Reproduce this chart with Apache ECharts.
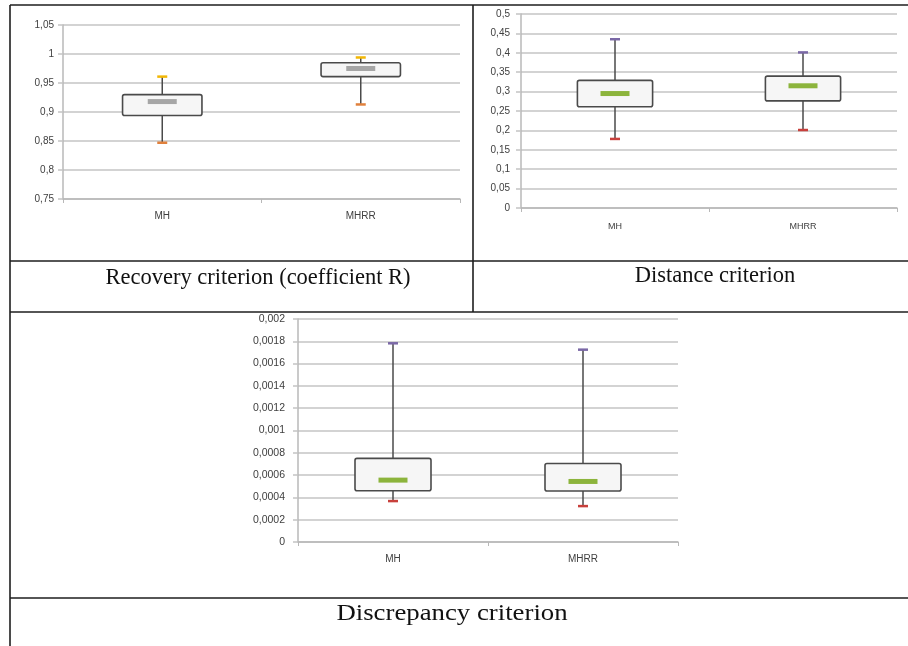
<!DOCTYPE html>
<html>
<head>
<meta charset="utf-8">
<script src="https://cdn.jsdelivr.net/npm/echarts@6/dist/echarts.min.js"></script>
<style>
html,body{margin:0;padding:0;background:#fff;}
#chart{width:908px;height:646px;}
</style>
</head>
<body>
<div id="chart"></div>
<script>
// ---- data ----
const categories = ['MH', 'MHRR'];

const recoveryMin    = [0.847, 0.913];
const recoveryQ1     = [0.894, 0.961];
const recoveryMedian = [0.918, 0.975];
const recoveryQ3     = [0.930, 0.985];
const recoveryMax    = [0.961, 0.994];

const distanceMin    = [0.178, 0.201];
const distanceQ1     = [0.261, 0.276];
const distanceMedian = [0.295, 0.315];
const distanceQ3     = [0.329, 0.340];
const distanceMax    = [0.435, 0.401];

const discrepancyMin    = [0.000367, 0.000322];
const discrepancyQ1     = [0.000460, 0.000457];
const discrepancyMedian = [0.000555, 0.000543];
const discrepancyQ3     = [0.000750, 0.000704];
const discrepancyMax    = [0.001782, 0.001725];

const captions = ['Recovery criterion (coefficient R)', 'Distance criterion', 'Discrepancy criterion'];

// ---- helpers ----
function rows(mn, q1, md, q3, mx) {
  return categories.map((c, i) => [i, mn[i], q1[i], md[i], q3[i], mx[i]]);
}
function fmt(v) {
  return String(parseFloat(Number(v).toFixed(6))).replace('.', ',');
}
function makeRender(medColor, topCap, botCap) {
  return function (params, api) {
    const x = api.value(0);
    const pMin = api.coord([x, api.value(1)]);
    const pQ1 = api.coord([x, api.value(2)]);
    const pMed = api.coord([x, api.value(3)]);
    const pQ3 = api.coord([x, api.value(4)]);
    const pMax = api.coord([x, api.value(5)]);
    const bw = api.size([1, 0])[0] * 0.40;
    const cx = pMed[0];
    const capW = 10, medW = 29;
    return {
      type: 'group',
      children: [
        { type: 'line', shape: { x1: cx, y1: pMax[1], x2: cx, y2: pMin[1] },
          style: { stroke: '#4a4a4a', lineWidth: 1.5 } },
        { type: 'rect', shape: { x: cx - bw / 2, y: pQ3[1], width: bw, height: pQ1[1] - pQ3[1], r: 2 },
          style: { fill: '#f6f6f6', stroke: '#4a4a4a', lineWidth: 1.6 } },
        { type: 'rect', shape: { x: cx - medW / 2, y: pMed[1] - 2.5, width: medW, height: 5 },
          style: { fill: medColor } },
        { type: 'line', shape: { x1: cx - capW / 2, y1: pMax[1], x2: cx + capW / 2, y2: pMax[1] },
          style: { stroke: topCap, lineWidth: 2.5 } },
        { type: 'line', shape: { x1: cx - capW / 2, y1: pMin[1], x2: cx + capW / 2, y2: pMin[1] },
          style: { stroke: botCap, lineWidth: 2.5 } }
      ]
    };
  };
}

const grids = [
  { left: 63, right: 448, top: 25, bottom: 447 },
  { left: 521, right: 11, top: 14, bottom: 438 },
  { left: 298, right: 230, top: 319, bottom: 104 }
];
const yDefs = [
  { min: 0.75, max: 1.05, interval: 0.05, margin: 9 },
  { min: 0, max: 0.5, interval: 0.05, margin: 11 },
  { min: 0, max: 0.002, interval: 0.0002, margin: 13 }
];

const xAxes = grids.map((g, i) => ({
  type: 'category', gridIndex: i, data: categories,
  axisLine: { lineStyle: { color: '#b8b8b8', width: 1.5 } },
  axisTick: { show: true, length: 4, lineStyle: { color: '#b8b8b8' } },
  axisLabel: { color: '#404040', fontSize: i === 1 ? 9 : 10, fontFamily: 'Liberation Sans', margin: i === 1 ? 14 : 12 },
  splitLine: { show: false }
}));
const yAxes = yDefs.map((d, i) => ({
  type: 'value', gridIndex: i, min: d.min, max: d.max, interval: d.interval,
  axisLine: { show: true, lineStyle: { color: '#b8b8b8', width: 1.5 } },
  axisTick: { show: true, length: 5, lineStyle: { color: '#c4c4c4', width: 1.5 } },
  axisLabel: { color: '#404040', fontSize: i === 2 ? 10.5 : 10, fontFamily: 'Liberation Sans', margin: d.margin, formatter: fmt },
  splitLine: { show: true, lineStyle: { color: '#c4c4c4', width: 1.5 } }
}));

const series = [
  { type: 'custom', xAxisIndex: 0, yAxisIndex: 0, renderItem: makeRender('#a6a6a6', '#f2b705', '#e0803c'),
    encode: { x: 0, y: [1, 2, 3, 4, 5] }, data: rows(recoveryMin, recoveryQ1, recoveryMedian, recoveryQ3, recoveryMax), z: 5 },
  { type: 'custom', xAxisIndex: 1, yAxisIndex: 1, renderItem: makeRender('#8cb43c', '#7a68a6', '#c8403c'),
    encode: { x: 0, y: [1, 2, 3, 4, 5] }, data: rows(distanceMin, distanceQ1, distanceMedian, distanceQ3, distanceMax), z: 5 },
  { type: 'custom', xAxisIndex: 2, yAxisIndex: 2, renderItem: makeRender('#8cb43c', '#7a68a6', '#c8403c'),
    encode: { x: 0, y: [1, 2, 3, 4, 5] }, data: rows(discrepancyMin, discrepancyQ1, discrepancyMedian, discrepancyQ3, discrepancyMax), z: 5 }
];

const border = { stroke: '#1e1e1e', lineWidth: 1.6 };
const capFont = '22.5px "Liberation Serif"';
const graphic = [
  { type: 'line', shape: { x1: 10, y1: 5, x2: 908, y2: 5 }, style: border },
  { type: 'line', shape: { x1: 10, y1: 5, x2: 10, y2: 646 }, style: border },
  { type: 'line', shape: { x1: 473, y1: 5, x2: 473, y2: 312 }, style: border },
  { type: 'line', shape: { x1: 10, y1: 261, x2: 908, y2: 261 }, style: border },
  { type: 'line', shape: { x1: 10, y1: 312, x2: 908, y2: 312 }, style: border },
  { type: 'line', shape: { x1: 10, y1: 598, x2: 908, y2: 598 }, style: border },
  { type: 'text', x: 258, y: 278, style: { text: captions[0], font: capFont, fill: '#111', textAlign: 'center', textVerticalAlign: 'middle' } },
  { type: 'text', x: 715, y: 276, style: { text: captions[1], font: capFont, fill: '#111', textAlign: 'center', textVerticalAlign: 'middle' } },
  { type: 'text', x: 452, y: 614, scaleX: 1.19, style: { text: captions[2], font: capFont, fill: '#111', textAlign: 'center', textVerticalAlign: 'middle' } }
];

const chart = echarts.init(document.getElementById('chart'), null, { renderer: 'canvas' });
chart.setOption({
  animation: false,
  backgroundColor: '#fff',
  grid: grids,
  xAxis: xAxes,
  yAxis: yAxes,
  series: series,
  graphic: graphic
});
</script>
</body>
</html>
